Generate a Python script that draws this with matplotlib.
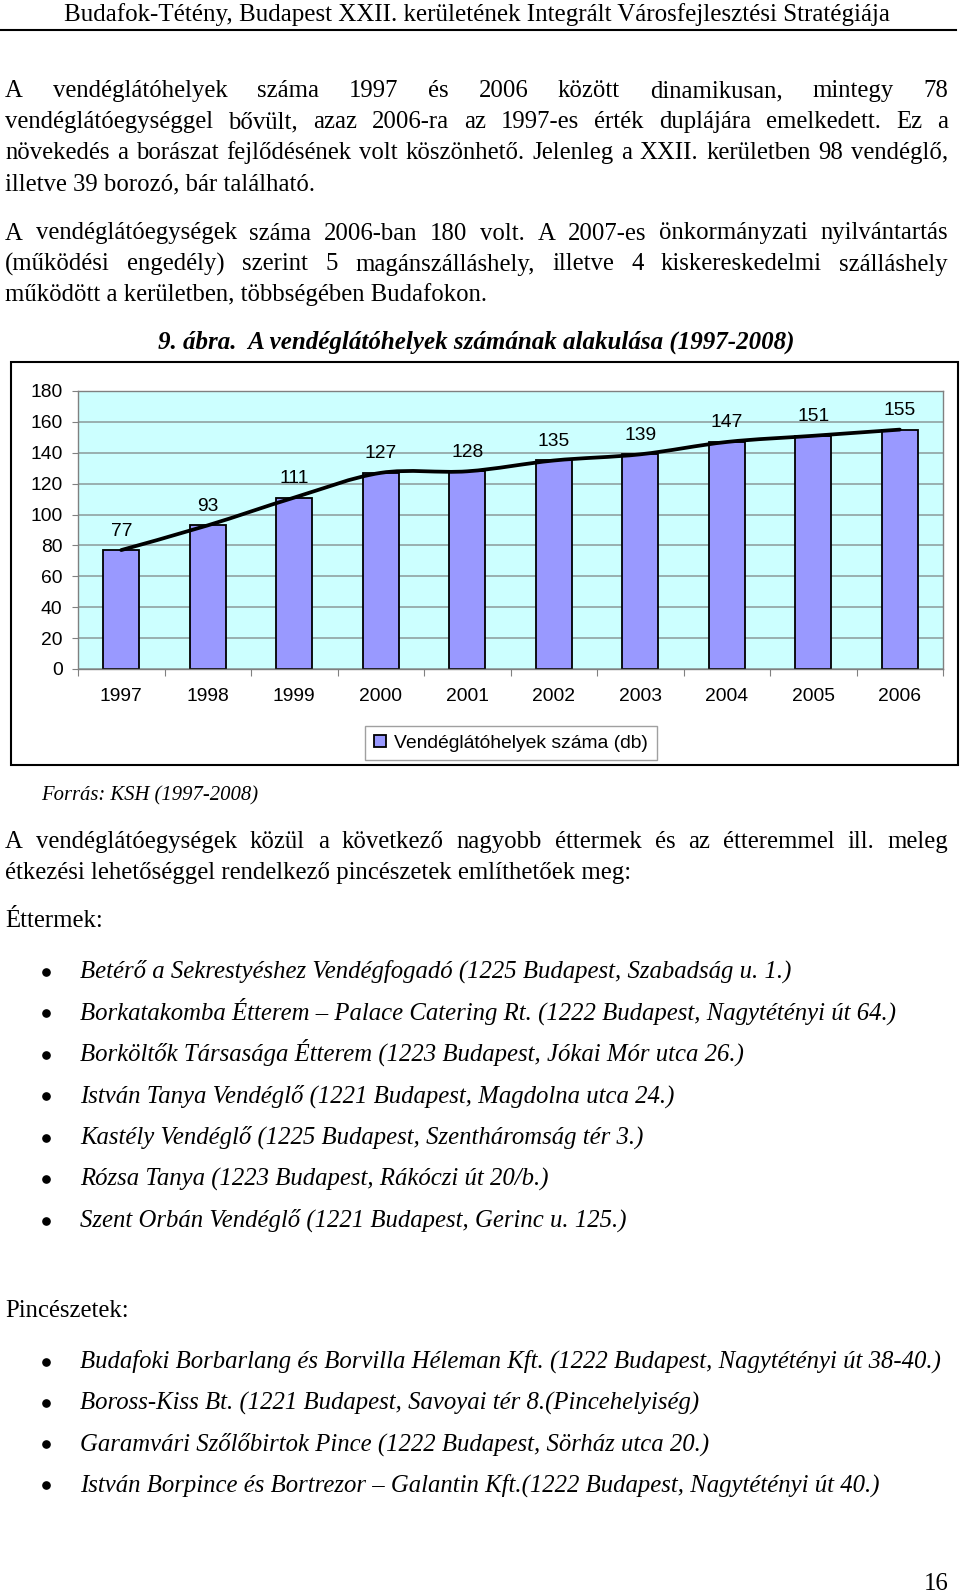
import matplotlib
matplotlib.use('Agg')
import matplotlib.pyplot as plt
from matplotlib.path import Path
from matplotlib.patches import PathPatch, Rectangle

# chart data
years = ['1997', '1998', '1999', '2000', '2001', '2002', '2003', '2004', '2005', '2006']
counts = [77, 93, 111, 127, 128, 135, 139, 147, 151, 155]
yticks = [0, 20, 40, 60, 80, 100, 120, 140, 160, 180]
series_name = 'Vendéglátóhelyek száma (db)'

# page texts
header = 'Budafok-Tétény, Budapest XXII. kerületének Integrált Városfejlesztési Stratégiája'
para1 = ['A vendéglátóhelyek száma 1997 és 2006 között dinamikusan, mintegy 78',
         'vendéglátóegységgel bővült, azaz 2006-ra az 1997-es érték duplájára emelkedett. Ez a',
         'növekedés a borászat fejlődésének volt köszönhető. Jelenleg a XXII. kerületben 98 vendéglő,',
         'illetve 39 borozó, bár található.']
para2 = ['A vendéglátóegységek száma 2006-ban 180 volt. A 2007-es önkormányzati nyilvántartás',
         '(működési engedély) szerint 5 magánszálláshely, illetve 4 kiskereskedelmi szálláshely',
         'működött a kerületben, többségében Budafokon.']
caption = '9. ábra.  A vendéglátóhelyek számának alakulása (1997-2008)'
source = 'Forrás: KSH (1997-2008)'
para3 = ['A vendéglátóegységek közül a következő nagyobb éttermek és az étteremmel ill. meleg',
         'étkezési lehetőséggel rendelkező pincészetek említhetőek meg:']
restaurants = ['Betérő a Sekrestyéshez Vendégfogadó (1225 Budapest, Szabadság u. 1.)',
               'Borkatakomba Étterem – Palace Catering Rt. (1222 Budapest, Nagytétényi út 64.)',
               'Borköltők Társasága Étterem (1223 Budapest, Jókai Mór utca 26.)',
               'István Tanya Vendéglő (1221 Budapest, Magdolna utca 24.)',
               'Kastély Vendéglő (1225 Budapest, Szentháromság tér 3.)',
               'Rózsa Tanya (1223 Budapest, Rákóczi út 20/b.)',
               'Szent Orbán Vendéglő (1221 Budapest, Gerinc u. 125.)']
cellars = ['Budafoki Borbarlang és Borvilla Héleman Kft. (1222 Budapest, Nagytétényi út 38-40.)',
           'Boross-Kiss Bt. (1221 Budapest, Savoyai tér 8.(Pincehelyiség)',
           'Garamvári Szőlőbirtok Pince (1222 Budapest, Sörház utca 20.)',
           'István Borpince és Bortrezor – Galantin Kft.(1222 Budapest, Nagytétényi út 40.)']
page_no = '16'

W, H = 960, 1593
SERIF = 'Liberation Serif'
SANS = 'Liberation Sans'

fig = plt.figure(figsize=(W / 100, H / 100), dpi=100)
page = fig.add_axes([0, 0, 1, 1], zorder=0)
page.set_xlim(0, W)
page.set_ylim(H, 0)
page.axis('off')
renderer = fig.canvas.get_renderer()


def text_width(s, **kw):
    t = page.text(0, 0, s, **kw)
    w = t.get_window_extent(renderer).width
    t.remove()
    return w


def fit_size(s, target, **kw):
    return 10 * target / text_width(s, fontsize=10, **kw)


def put_line(s, x0, y, size, x1=None, **kw):
    # x1 given -> justify between x0 and x1
    if x1 is None:
        page.text(x0, y, s, fontsize=size, family=SERIF, va='baseline', **kw)
        return
    words = s.split(' ')
    widths = [text_width(w, fontsize=size, family=SERIF, **kw) for w in words]
    gap = (x1 - x0 - sum(widths)) / (len(words) - 1)
    x = x0
    for w, ww in zip(words, widths):
        page.text(x, y, w, fontsize=size, family=SERIF, va='baseline', **kw)
        x += ww + gap


body = fit_size(para1[3], 309, family=SERIF)
LEFT, RIGHT = 5, 948

# header
hsize = fit_size(header, 826, family=SERIF)
page.text(477, 21, header, fontsize=hsize, family=SERIF, ha='center', va='baseline')
page.plot([0, 956], [29.5, 29.5], color='black', lw=1.5)


def paragraph(lines, y0, step):
    for k, s in enumerate(lines):
        last = k == len(lines) - 1
        put_line(s, LEFT, y0 + k * step, body, None if last else RIGHT)


paragraph(para1, 97, 31)
paragraph(para2, 239.5, 31)

csize = fit_size(caption, 639, family=SERIF, style='italic', weight='bold')
page.text(476.5, 349, caption, fontsize=csize, family=SERIF, style='italic', weight='bold',
          ha='center', va='baseline')

# chart frame
page.add_patch(Rectangle((11, 362), 947, 403, facecolor='white', edgecolor='black', lw=1.5))

ax = fig.add_axes([78 / W, 1 - 669 / H, (943 - 78) / W, (669 - 391) / H], zorder=1)
ax.set_facecolor('#CCFFFF')
x = list(range(len(years)))
bars = ax.bar(x, counts, width=0.42, color='#9999FF', edgecolor='black', lw=1.3,
              label=series_name, zorder=2)
ax.set_xlim(-0.5, len(years) - 0.5)
ax.set_ylim(0, 180)
ax.set_yticks(yticks)
ax.set_xticks(x)
ax.set_xticklabels(years)
ax.set_xticks([i - 0.5 for i in range(len(years) + 1)], minor=True)
ax.grid(axis='y', color='#8c9a9a', lw=1.1, zorder=0)
ax.set_axisbelow(True)
for sp in ax.spines.values():
    sp.set_color('#808080')
    sp.set_linewidth(1)
fs = 13.9
ax.tick_params(axis='y', direction='out', length=4.3, width=0.8, color='#808080', pad=6.8,
               labelsize=fs, labelfontfamily=SANS)
ax.tick_params(axis='x', which='major', length=0, pad=13.5, labelsize=fs, labelfontfamily=SANS)
ax.tick_params(axis='x', which='minor', direction='out', length=5, width=0.8, color='#808080')

for i, v in zip(x, counts):
    ax.annotate(str(v), (i, v), xytext=(0, 13.7), textcoords='offset points',
                ha='center', va='center', fontsize=fs, family=SANS)

# smoothed line through the bar tops
pts = list(zip(x, counts))
verts = [pts[0]]
codes = [Path.MOVETO]
n = len(pts)
for i in range(n - 1):
    p0 = pts[max(i - 1, 0)]
    p1 = pts[i]
    p2 = pts[i + 1]
    p3 = pts[min(i + 2, n - 1)]
    c1 = (p1[0] + (p2[0] - p0[0]) / 6, p1[1] + (p2[1] - p0[1]) / 6)
    c2 = (p2[0] - (p3[0] - p1[0]) / 6, p2[1] - (p3[1] - p1[1]) / 6)
    verts += [c1, c2, p2]
    codes += [Path.CURVE4] * 3
ax.add_patch(PathPatch(Path(verts, codes), facecolor='none', edgecolor='black',
                       lw=2.7, zorder=3, capstyle='round'))

leg = ax.legend(handles=[bars.patches[0]], labels=[series_name], loc='center',
                bbox_to_anchor=(511 / W, 1 - 743 / H), bbox_transform=fig.transFigure,
                fancybox=False, framealpha=1, edgecolor='#a0a0a0',
                prop={'family': SANS, 'size': fs}, handlelength=0.6, handleheight=0.6,
                handletextpad=0.45, borderpad=0.45, borderaxespad=0)
leg.get_frame().set_linewidth(1)

# source
ssize = fit_size(source, 217, family=SERIF, style='italic')
page.text(41, 800, source, fontsize=ssize, family=SERIF, style='italic', va='baseline')

paragraph(para3, 848, 30.5)
put_line('Éttermek:', LEFT, 927, body)

isize = fit_size(restaurants[0], 714, family=SERIF, style='italic')


def bullet_list(items, y0, step):
    for k, s in enumerate(items):
        y = y0 + k * step
        page.plot(46, y - 6.5, 'o', ms=5.2, color='black')
        page.text(80, y, s, fontsize=isize, family=SERIF, style='italic', va='baseline')


bullet_list(restaurants, 978, 41.5)
put_line('Pincészetek:', LEFT, 1317, body)
bullet_list(cellars, 1368, 41.2)

page.text(949, 1590, page_no, fontsize=body, family=SERIF, ha='right', va='baseline')

fig.savefig('out.png', dpi=100, facecolor='white')
